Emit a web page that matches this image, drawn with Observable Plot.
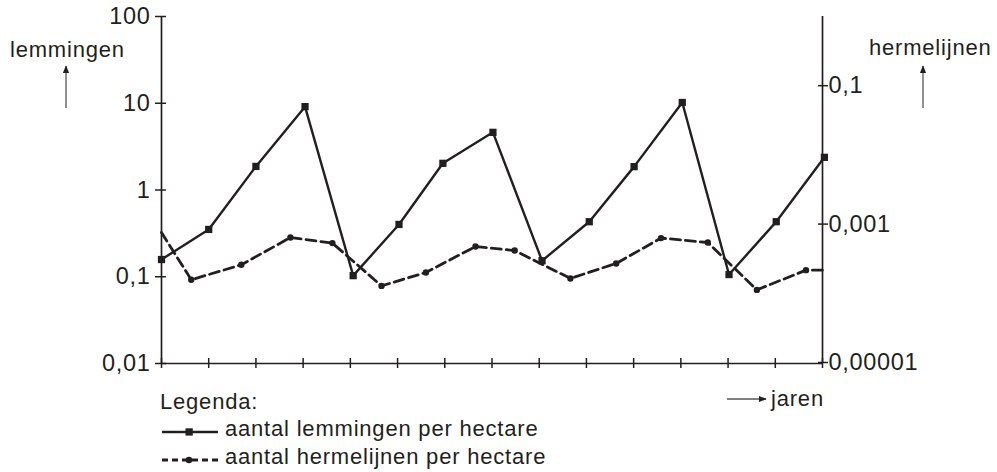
<!DOCTYPE html>
<html><head><meta charset="utf-8">
<script src="https://cdn.jsdelivr.net/npm/d3@7"></script>
<script src="https://cdn.jsdelivr.net/npm/@observablehq/plot@0.6"></script>
<style>
body{margin:0;background:#fff;}
#wrap{position:relative;width:997px;height:472px;font-family:"Liberation Sans",Arial,sans-serif;color:#231f20;overflow:hidden;}
#wrap svg{position:absolute;left:0;top:0;}
.t{font-family:"Liberation Sans",Arial,sans-serif;font-size:22px;letter-spacing:0.8px;fill:#231f20;}
</style></head><body><div id="wrap"></div>
<script>
// ---- data ----
const xTicks = [0,1,2,3,4,5,6,7,8,9,10,11,12,13,14];
const lemX = [0,1,2,3.04,4.06,5.03,5.96,7.02,8.06,9.06,10.01,11.03,12.02,13.02,14.04];
const lemmingen = [0.158,0.351,1.87,9.14,0.103,0.401,2.03,4.62,0.153,0.431,1.86,10.2,0.106,0.431,2.38];
const hermX = [0,0.63,1.69,2.73,3.62,4.66,5.60,6.65,7.48,8.66,9.63,10.58,11.57,12.61,13.65,14];
const hermelijnen = [0.000756,0.000157,0.000258,0.000640,0.000531,0.000128,0.000200,0.000474,0.000415,0.000164,0.000270,0.000628,0.000542,0.000112,0.000216,0.000216];
const hermMarked = [false,true,true,true,true,true,true,true,true,true,true,true,true,true,true,false];
const leftTicks = [0.01,0.1,1,10,100];
const leftTickLabels = ["0,01","0,1","1","10","100"];
const rightTicks = [0.00001,0.001,0.1];
const rightTickLabels = ["0,00001","0,001","0,1"];

const ink = "#231f20";
const lemData = lemX.map((x,i)=>({x, v: lemmingen[i]}));
const hermData = hermX.map((x,i)=>({x, v: hermelijnen[i], m: hermMarked[i]}));

const common = {
  width: 997, height: 380, marginLeft: 161, marginRight: 175, marginTop: 16, marginBottom: 17,
  style: {fontFamily: '"Liberation Sans", Arial, sans-serif', fontSize: "23.5px", color: ink, background: "transparent", overflow: "visible", letterSpacing: "0.7px"}
};

const p1 = Plot.plot({
  ...common,
  x: {domain: [0, 14]},
  y: {type: "log", domain: [0.01, 100]},
  marks: [
    Plot.ruleY([0.01], {stroke: ink, strokeWidth: 1.7}),
    Plot.ruleX([0], {stroke: ink, strokeWidth: 1.7}),
    Plot.axisY(leftTicks, {anchor: "left", tickSize: 11, dx: 5, fill: null, label: null, stroke: ink, strokeWidth: 1.5}),
    Plot.axisY(leftTicks, {anchor: "left", tickSize: 0, tickPadding: 11, label: null, fill: ink, tickFormat: d => leftTickLabels[leftTicks.indexOf(d)]}),
    Plot.axisX(xTicks, {anchor: "bottom", tickSize: 10, dy: -5, fill: null, label: null, stroke: ink, strokeWidth: 1.5}),
    Plot.line(lemData, {x: "x", y: "v", stroke: ink, strokeWidth: 2.4}),
    Plot.dot(lemData, {x: "x", y: "v", symbol: "square", r: 4.1, fill: ink})
  ]
});

const p2 = Plot.plot({
  ...common,
  marginBottom: 18,
  x: {domain: [0, 14], axis: null},
  y: {type: "log", domain: [0.00001, 1]},
  marks: [
    Plot.ruleX([14], {stroke: ink, strokeWidth: 1.7}),
    Plot.axisY(rightTicks, {anchor: "right", tickSize: 10, dx: -5, fill: null, label: null, stroke: ink, strokeWidth: 1.5}),
    Plot.axisY(rightTicks, {anchor: "right", tickSize: 0, tickPadding: 6, label: null, fill: ink, tickFormat: d => rightTickLabels[rightTicks.indexOf(d)]}),
    Plot.line(hermData, {x: "x", y: "v", stroke: ink, strokeWidth: 2.8, strokeDasharray: "10,5"}),
    Plot.dot(hermData.filter(d => d.m), {x: "x", y: "v", r: 3.2, fill: ink})
  ]
});

const wrap = document.getElementById("wrap");
wrap.appendChild(p1);
wrap.appendChild(p2);

// annotations and legend
const ann = `
<svg width="997" height="472" xmlns="http://www.w3.org/2000/svg">
  <defs>
    <marker id="ah" viewBox="0 0 10 10" refX="9" refY="5" markerWidth="6" markerHeight="6" orient="auto-start-reverse">
      <path d="M0,1 L10,5 L0,9 z" fill="${ink}"/>
    </marker>
  </defs>
  <text class="t" x="10" y="57">lemmingen</text>
  <line x1="66" y1="108" x2="66" y2="66" stroke="#555" stroke-width="1.3" marker-end="url(#ah)"/>
  <text class="t" x="869" y="55">hermelijnen</text>
  <line x1="923" y1="108" x2="923" y2="66" stroke="#555" stroke-width="1.3" marker-end="url(#ah)"/>
  <line x1="727" y1="399" x2="766" y2="399" stroke="#555" stroke-width="1.3" marker-end="url(#ah)"/>
  <text class="t" x="771" y="406">jaren</text>
  <text class="t" x="160" y="409">Legenda:</text>
  <line x1="162" y1="432" x2="218" y2="432" stroke="${ink}" stroke-width="2.4"/>
  <rect x="185.5" y="428.3" width="7.3" height="7.3" fill="${ink}"/>
  <text class="t" x="225" y="436">aantal lemmingen per hectare</text>
  <line x1="162" y1="460" x2="218" y2="460" stroke="${ink}" stroke-width="2.8" stroke-dasharray="6,4"/>
  <circle cx="189" cy="460" r="3.3" fill="${ink}"/>
  <text class="t" x="225" y="464">aantal hermelijnen per hectare</text>
</svg>`;
wrap.insertAdjacentHTML("beforeend", ann);
</script>
</body></html>
